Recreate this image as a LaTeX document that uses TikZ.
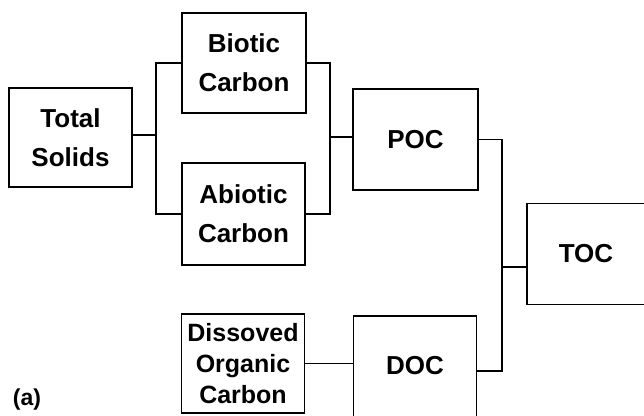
\documentclass[tikz,border=0pt]{standalone}
\usepackage{fontspec}
\setmainfont{Liberation Sans}
\begin{document}
\begin{tikzpicture}[x=1pt,y=-1pt,
  box/.style={draw, line width=1.9pt, inner sep=0pt, align=center,
    font=\bfseries\fontsize{26}{39}\selectfont},
  wire/.style={line width=1.9pt}]
\useasboundingbox (0,0) rectangle (644,415);
\clip (0,0) rectangle (644,415);
\node[box, minimum width=123pt, minimum height=99pt] (ts) at (70.5,137.5) {Total\\Solids};
\node[box, minimum width=124pt, minimum height=100pt] (bio) at (244,63) {Biotic\\Carbon};
\node[box, minimum width=123pt, minimum height=102pt] (abio) at (243.5,214) {Abiotic\\Carbon};
\node[box, minimum width=125pt, minimum height=101pt] (poc) at (415.5,139.5) {POC};
\node[box, minimum width=136pt, minimum height=101pt] (toc) at (595,254) {TOC\hspace*{18pt}};
\node[box, minimum width=123pt, minimum height=99pt,
  font=\bfseries\fontsize{25}{31}\selectfont] (dis) at (243,363.5) {Dissoved\\Organic\\Carbon};
\node[box, minimum width=123pt, minimum height=110pt] (doc) at (415,371) {\raisebox{11pt}{DOC}};
\node[font=\bfseries\fontsize{23}{28}\selectfont, inner sep=0pt] (lab) at (27,400) {(a)};
\coordinate (j1) at (156,135);
\coordinate (j2) at (330,137);
\coordinate (j3) at (502,267);
\draw[wire] (ts.east |- j1) -- (j1);
\draw[wire] (bio.west) -| (j1) |- (abio.west);
\draw[wire] (bio.east) -| (j2) |- (abio.east);
\draw[wire] (j2) -- (j2 -| poc.west);
\draw[wire] (poc.east) -| (j3) |- (doc.east);
\draw[wire] (j3) -- (j3 -| toc.west);
\draw[wire] (dis.east) -- (dis.east -| doc.west);
\end{tikzpicture}
\end{document}
